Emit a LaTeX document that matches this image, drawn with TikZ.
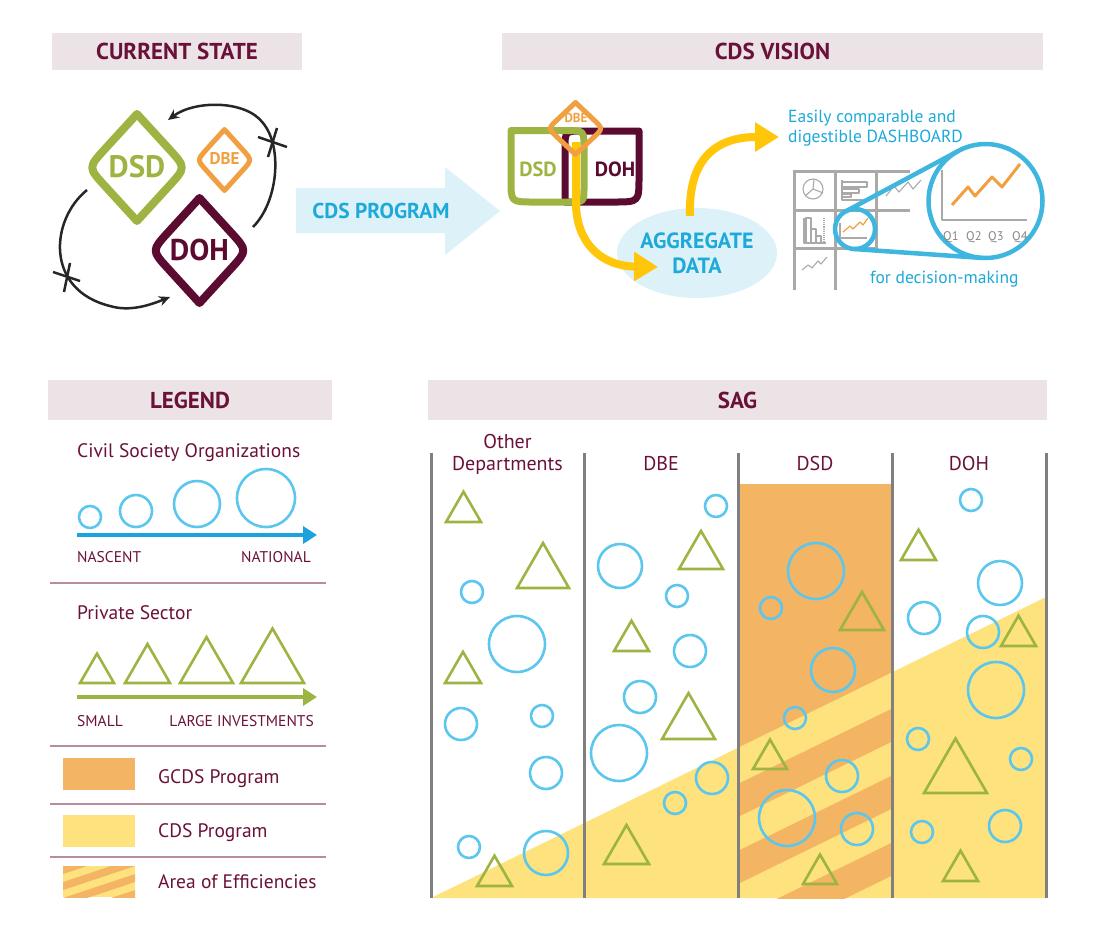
\documentclass[tikz,border=0pt]{standalone}
\usepackage{fontspec}
\setmainfont{PT Sans}
\usetikzlibrary{arrows.meta,shapes.geometric}

\definecolor{maroon}{HTML}{6B1139}
\definecolor{titlebg}{HTML}{EBE3E6}
\definecolor{dsdc}{HTML}{9DB443}
\definecolor{dbec}{HTML}{F0A040}
\definecolor{dohc}{HTML}{5C0B30}
\definecolor{cdsblue}{HTML}{1DA9D9}
\definecolor{paleblue}{HTML}{DDF1F9}
\definecolor{csoblue}{HTML}{5BC6EE}
\definecolor{legblue}{HTML}{1BA3DD}
\definecolor{psgreen}{HTML}{9CB542}
\definecolor{yarrowc}{HTML}{FFC60A}
\definecolor{gcds}{HTML}{F3B463}
\definecolor{cdsy}{HTML}{FDE27D}
\definecolor{sepc}{HTML}{B98CA0}
\definecolor{colgray}{HTML}{808080}
\definecolor{dashgray}{HTML}{A9A9A9}

\begin{document}
\begin{tikzpicture}[x=1pt,y=-1pt,line join=round,
  titlebar/.style={fill=titlebg,text=maroon,inner sep=0pt,
    font=\fontsize{23}{26}\selectfont\bfseries},
  loopline/.style={line width=2.5pt,black!85,-{Stealth[length=11pt,width=10pt]}},
  yarrow/.style={line width=8pt,yarrowc,-{Triangle[length=24pt,width=28pt]}},
  bluetext/.style={text=cdsblue,inner sep=0pt},
  chart/.style={line width=1.1pt,dashgray},
  grid/.style={line width=3pt,dashgray,line cap=rect},
  magnify/.style={line width=4.5pt,cdsblue!85},
  legtext/.style={text=maroon,inner sep=0pt,anchor=base west,
    font=\fontsize{19.5}{22}\selectfont},
  legsmall/.style={text=maroon,inner sep=0pt,font=\fontsize{15.5}{18}\selectfont},
  sep/.style={line width=2pt,sepc},
  csoline/.style={line width=2.6pt,csoblue},
  triline/.style={line width=2.6pt,psgreen,line join=miter},
  colline/.style={line width=3pt,colgray},
  colhead/.style={text=maroon,inner sep=0pt,anchor=base,font=\fontsize{20}{22}\selectfont}]
\useasboundingbox (0,0) rectangle (1097,930);
% rounded diamond: #1,#2 centre, #3 half width, #4 half height, #5 style
\newcommand{\rdiam}[5]{%
  \draw[#5] (#1,#2-#4) -- (#1+0.65*#3,#2-0.35*#4)
    .. controls (#1+#3,#2) .. (#1+0.65*#3,#2+0.35*#4) -- (#1,#2+#4)
    -- (#1-0.65*#3,#2+0.35*#4) .. controls (#1-#3,#2) .. (#1-0.65*#3,#2-0.35*#4) -- cycle;}
% ---------- current state ----------
\node[titlebar,minimum width=250pt,minimum height=37pt] (curtitle) at (177,51.5) {CURRENT STATE};
\rdiam{137}{167.5}{49}{53.5}{dsdc,line width=8pt}
\rdiam{224.5}{160}{27.5}{30.5}{dbec,line width=5pt}
\rdiam{199.5}{250.5}{48}{52.5}{dohc,line width=8pt}
\node[text=dsdc,font=\fontsize{31}{31}\selectfont\bfseries] (curdsd) at (137,167) {DSD};
\node[text=dbec,font=\fontsize{17}{17}\selectfont\bfseries] (curdbe) at (224.5,159) {DBE};
\node[text=dohc,font=\fontsize{30}{30}\selectfont\bfseries] (curdoh) at (199.5,250) {DOH};
% loops with broken links
\coordinate (loopAs) at (253,227);
\coordinate (loopAe) at (168,120);
\coordinate (loopBs) at (87,190);
\coordinate (loopBe) at (170,297);
\draw[loopline] (loopAs) .. controls (278,202) and (283,147) .. (263,123)
  .. controls (246,100) and (195,100) .. (loopAe);
\draw[loopline] (loopBs) .. controls (50,220) and (45,290) .. (110,306)
  .. controls (130,312) and (150,305) .. (loopBe);
\draw[line width=2.5pt,black!85] (258,137) -- (287,147) (277,128) -- (268,157);
\draw[line width=2.5pt,black!85] (53,272) -- (80,281) (70,263) -- (64,292);
% program arrow
\fill[paleblue] (296,188) -- (445,188) -- (445,167) -- (500,211) -- (445,255)
  -- (445,233) -- (296,233) -- cycle;
\node[bluetext,font=\fontsize{21.5}{22}\selectfont\bfseries] (cdsprog) at (381,211) {CDS PROGRAM};
% ---------- CDS vision ----------
\node[titlebar,minimum width=541pt,minimum height=37pt] (vistitle) at (772.5,51.5) {CDS VISION};
\node[ellipse,fill=paleblue,minimum width=160pt,minimum height=90pt,inner sep=0pt,
  text=cdsblue,align=center,font=\fontsize{22}{25}\selectfont\bfseries] (agg) at (697,253)
  {AGGREGATE\\DATA};
% department shields
\draw[dohc,line width=7pt] (565,149) .. controls (565,131) .. (583,131) -- (639,131)
  -- (639,177) .. controls (639,202) .. (614,202) -- (565,202) -- cycle;
\draw[dsdc,line width=7pt] (511,130.5) -- (566,130.5) .. controls (584,130.5) .. (584,148.5)
  -- (584,187) .. controls (584,202) .. (569,202) -- (533,202)
  .. controls (511,202) .. (511,180) -- cycle;
\coordinate (bartop) at (576,142);
\coordinate (aggtip) at (658,267);
\coordinate (aggtop) at (690,216);
\coordinate (dashtip) at (779,137);
\draw[yarrow] (bartop) -- (576,205) .. controls (577,242) and (600,266) .. (aggtip);
\draw[yarrow] (aggtop) .. controls (688,160) and (715,137) .. (dashtip);
\rdiam{575.5}{128.5}{27.5}{26}{dbec,line width=5pt}
\node[text=dsdc,font=\fontsize{20.5}{21}\selectfont\bfseries] (visdsd) at (538,169) {DSD};
\node[text=dohc,font=\fontsize{20.5}{21}\selectfont\bfseries] (visdoh) at (615,169) {DOH};
\node[text=dbec,font=\fontsize{13}{13}\selectfont\bfseries] (visdbe) at (576,118) {DBE};
% dashboard
\node[bluetext,anchor=base west,font=\fontsize{17.5}{20}\selectfont] (dashA) at (788,122) {Easily comparable and};
\node[bluetext,anchor=base west,font=\fontsize{17.5}{20}\selectfont] (dashB) at (788,142) {digestible DASHBOARD};
\draw[grid] (794,171) -- (908,171) (794,210) -- (908,210) (794,248) -- (876,248);
\draw[grid] (794,171) -- (794,288) (835,171) -- (835,288) (876,171) -- (876,248);
\draw[chart] (813,189) circle (10pt) (813,189) -- (814,179) (813,189) -- (805,196) (813,189) -- (823,193);
\draw[chart] (842,180) -- (842,200) -- (871,200);
\draw[chart] (842,182) rectangle (867,187) (842,189) rectangle (859,193) (842,194) rectangle (851,197);
\draw[chart] (886,196) -- (894,186) -- (899,192) -- (908,182) -- (913,189) -- (921,180);
\draw[chart] (804,218) -- (804,243) -- (826,243);
\draw[chart] (806,218) rectangle (811,243) (811,229) rectangle (816,243) (816,236) rectangle (821,243);
\draw[chart,densely dotted] (824,218) -- (824,243);
\draw[chart] (802,270) -- (808,265) -- (812,268) -- (818,261) -- (821,264) -- (827,257);
\draw[chart] (840,223) -- (840,238) -- (867,238);
\draw[line width=1.2pt,dbec] (843,232) -- (850,226) -- (853,229) -- (860,222) -- (863,225) -- (868,218);
\fill[white] (985.5,201) circle (57pt);
\draw[magnify] (855,229) circle (20pt);
\draw[magnify] (985.5,201) circle (57pt);
\draw[magnify] (845.6,211.4) -- (958.6,150.8) (853.6,249) -- (981.6,257.9);
\draw[line width=2pt,dashgray] (942,170) -- (942,220) -- (1027,220);
\draw[line width=3pt,dbec] (952,205) -- (968,187) -- (975,196) -- (992,177) -- (1002,187) -- (1020,164);
\foreach \q/\x in {1/943,2/966,3/988,4/1012}
  \node[text=dashgray!80!black,inner sep=0pt,anchor=base west,font=\fontsize{12.5}{13}\selectfont] (q\q) at (\x,240) {Q\q};
\node[bluetext,anchor=base west,font=\fontsize{17.5}{20}\selectfont] (decision) at (870,283) {for decision-making};
% ---------- legend ----------
\node[titlebar,minimum width=284pt,minimum height=40pt] (legtitle) at (190,400) {LEGEND};
\node[legtext] (csolabel) at (77,457) {Civil Society Organizations};
\foreach \x/\y/\r in {90/517/11,136/511/16,197/504/23,266/498/29}
  \draw[csoline] (\x,\y) circle (\r pt);
\coordinate (csofrom) at (77,535);
\coordinate (csoto) at (317,535);
\draw[line width=4pt,legblue,-{Triangle[length=14pt,width=17pt]}] (csofrom) -- (csoto);
\node[legsmall,anchor=base west] (nascent) at (77,562) {NASCENT};
\node[legsmall,anchor=base east] (national) at (311,562) {NATIONAL};
\draw[sep] (50,583) -- (326,583);
\node[legtext] (pslabel) at (77,619) {Private Sector};
\foreach \x/\y/\s in {97/683/17,147.5/683/22.5,206.5/683/26.5,272.5/683/31.5}
  \draw[triline] (\x-\s,\y) -- (\x+\s,\y) -- (\x,\y-1.732*\s) -- cycle;
\coordinate (psfrom) at (77,697);
\coordinate (psto) at (317,697);
\draw[line width=4pt,psgreen,-{Triangle[length=14pt,width=17pt]}] (psfrom) -- (psto);
\node[legsmall,anchor=base west] (small) at (77,726) {SMALL};
\node[legsmall,anchor=base east] (large) at (314,726) {LARGE INVESTMENTS};
\draw[sep] (50,746) -- (326,746);
\fill[gcds] (63,758) rectangle (135,790);
\node[legtext] (gcdslabel) at (158,783) {GCDS Program};
\draw[sep] (50,804) -- (326,804);
\fill[cdsy] (63,815) rectangle (135,847);
\node[legtext] (cdslabel) at (158,837) {CDS Program};
\draw[sep] (50,857) -- (326,857);
\begin{scope}
  \clip (63,866) rectangle (135,897);
  \fill[cdsy] (63,866) rectangle (135,897);
  \foreach \o in {-16,0,16,32,48}
    \fill[gcds] (63,866+\o) -- (135,842+\o) -- (135,850+\o) -- (63,874+\o) -- cycle;
\end{scope}
\node[legtext] (efflabel) at (158,888) {Area of Efficiencies};
% ---------- SAG ----------
\node[titlebar,minimum width=619pt,minimum height=40pt] (sagtitle) at (737.5,400) {SAG};
\fill[gcds] (738,484) rectangle (892,898);
\fill[cdsy] (431,898) -- (1046,597) -- (1046,898) -- cycle;
\begin{scope}
  \clip (738,484) rectangle (892,898);
  \foreach \o in {36,103,170,237}
    \fill[gcds] (738,747.9+\o) -- (892,672.6+\o) -- (892,672.6+\o+33) -- (738,747.9+\o+33) -- cycle;
\end{scope}
\foreach \x in {431,584.5,738,892,1046}
  \draw[colline] (\x,453) -- (\x,898);
\node[colhead] (othA) at (507.5,448) {Other};
\node[colhead] (othB) at (507.5,470) {Departments};
\node[colhead] (sagdbe) at (661,470) {DBE};
\node[colhead] (sagdsd) at (815,470) {DSD};
\node[colhead] (sagdoh) at (969,470) {DOH};
% organisations
\foreach \x/\y/\r in {472/592/11,517/644/28,461/724/16,542/716/11,546/773/16,469/847/11,546/853/22,
  716/506/11,620/566/22,677/596/11,690/651/16,640/697/16,619/753/28,712/778/16,675/803/11,
  816/571/28,771/608/11,833/670/22,795/718/11,842/776/16,787/818/28,857/829/16,
  971/500/11,1000/583/22,924/618/16,983/632/16,996/690/28,918/739/11,1021/759/11,922/832/11,1005/826/16}
  \draw[csoline] (\x,\y) circle (\r pt);
% private sector
\foreach \x/\y/\s in {463.5/522/17.5,543/588/26,463/683/18,494.5/886/17.5,
  701/569/22,631.5/651/17.5,688.5/739/26.5,626.5/864/22.5,
  862/630/22,770/769/17,820/884/17,
  918.5/560/17.5,1018.5/646/17.5,955.5/793/31.5,960.5/881/17.5}
  \draw[triline] (\x-\s,\y) -- (\x+\s,\y) -- (\x,\y-1.732*\s) -- cycle;
\end{tikzpicture}
\end{document}
